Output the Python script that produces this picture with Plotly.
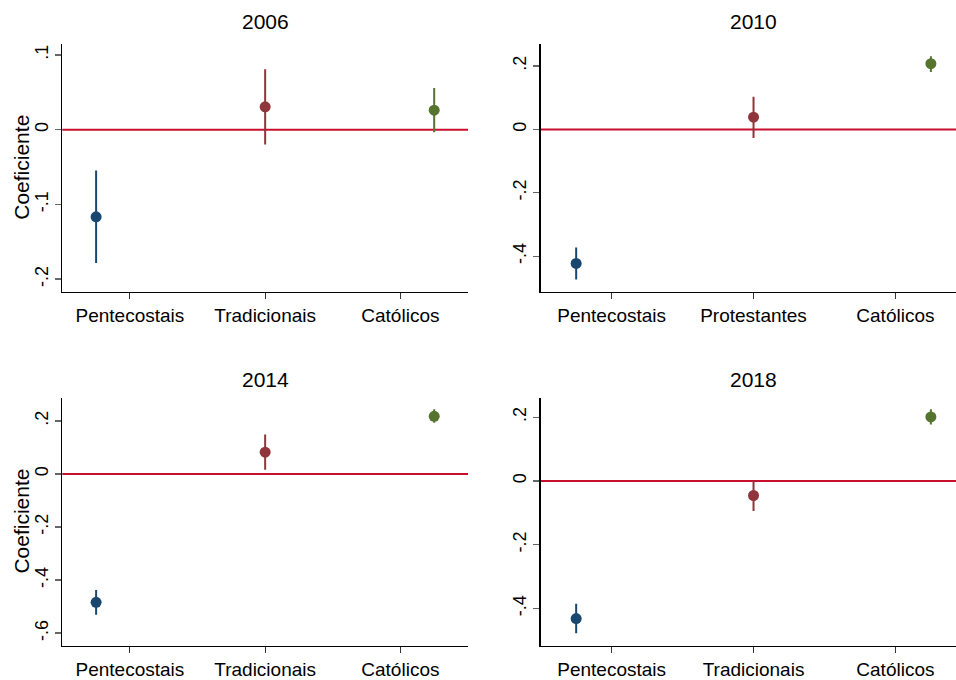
import plotly.graph_objects as go

# ---- data ----
years = ["2006", "2010", "2014", "2018"]
labels_2006 = ["Pentecostais", "Tradicionais", "Católicos"]
labels_2010 = ["Pentecostais", "Protestantes", "Católicos"]
labels_2014 = ["Pentecostais", "Tradicionais", "Católicos"]
labels_2018 = ["Pentecostais", "Tradicionais", "Católicos"]

coef_2006 = [-0.1166, 0.0305, 0.0261]
lo_2006 = [-0.1784, -0.0199, -0.0036]
hi_2006 = [-0.0547, 0.0808, 0.0556]

coef_2010 = [-0.423, 0.0387, 0.2075]
lo_2010 = [-0.474, -0.027, 0.181]
hi_2010 = [-0.373, 0.103, 0.231]

coef_2014 = [-0.484, 0.082, 0.2175]
lo_2014 = [-0.531, 0.016, 0.193]
hi_2014 = [-0.437, 0.149, 0.2437]

coef_2018 = [-0.432, -0.0456, 0.201]
lo_2018 = [-0.478, -0.094, 0.177]
hi_2018 = [-0.3855, 0.001, 0.225]

yticks_2006 = [-0.2, -0.1, 0, 0.1]
yticklabels_2006 = ["-.2", "-.1", "0", ".1"]
yticks_2010 = [-0.4, -0.2, 0, 0.2]
yticklabels_2010 = ["-.4", "-.2", "0", ".2"]
yticks_2014 = [-0.6, -0.4, -0.2, 0, 0.2]
yticklabels_2014 = ["-.6", "-.4", "-.2", "0", ".2"]
yticks_2018 = [-0.4, -0.2, 0, 0.2]
yticklabels_2018 = ["-.4", "-.2", "0", ".2"]

colors = ["#1a476f", "#90353b", "#55752f"]
zero_color = "#c8102e"
FONT = "Liberation Sans, Arial, sans-serif"

panels = [
    dict(year=years[0], labels=labels_2006, coef=coef_2006, lo=lo_2006, hi=hi_2006,
         yt=yticks_2006, ytl=yticklabels_2006, yr=[-0.2172, 0.1152],
         xd=[62.3 / 956, 468 / 956], xr=[0.8, 3.2], yd=[1 - 295 / 680, 1 - 44 / 680],
         title_x=265 / 956, title_y=1 - 22 / 680, ytitle=True),
    dict(year=years[1], labels=labels_2010, coef=coef_2010, lo=lo_2010, hi=hi_2010,
         yt=yticks_2010, ytl=yticklabels_2010, yr=[-0.513, 0.271],
         xd=[540.7 / 956, 1.0], xr=[0.8, 3.1416], yd=[1 - 295 / 680, 1 - 44 / 680],
         title_x=753 / 956, title_y=1 - 22 / 680, ytitle=False),
    dict(year=years[2], labels=labels_2014, coef=coef_2014, lo=lo_2014, hi=hi_2014,
         yt=yticks_2014, ytl=yticklabels_2014, yr=[-0.647, 0.288],
         xd=[62.3 / 956, 468 / 956], xr=[0.8, 3.2], yd=[1 - 652.3 / 680, 1 - 401.7 / 680],
         title_x=265 / 956, title_y=1 - 383 / 680, ytitle=True),
    dict(year=years[3], labels=labels_2018, coef=coef_2018, lo=lo_2018, hi=hi_2018,
         yt=yticks_2018, ytl=yticklabels_2018, yr=[-0.517, 0.262],
         xd=[540.7 / 956, 1.0], xr=[0.8, 3.1416], yd=[1 - 652.3 / 680, 1 - 401.7 / 680],
         title_x=753 / 956, title_y=1 - 383 / 680, ytitle=False),
]

fig = go.Figure()
layout = dict(
    width=956, height=680,
    margin=dict(l=0, r=0, t=0, b=0),
    paper_bgcolor="white", plot_bgcolor="white",
    showlegend=False,
    font=dict(family=FONT, color="black"),
)
annotations = []
shapes = []

for i, p in enumerate(panels):
    k = "" if i == 0 else str(i + 1)
    xa, ya = "x" + k, "y" + k
    positions = list(range(1, len(p["labels"]) + 1))
    for j in range(len(p["labels"])):
        c = p["coef"][j]
        fig.add_trace(go.Scatter(
            x=[positions[j]], y=[c], xaxis=xa, yaxis=ya, mode="markers",
            marker=dict(color=colors[j], size=11, line=dict(width=0)),
            error_y=dict(type="data", symmetric=False,
                         array=[p["hi"][j] - c], arrayminus=[c - p["lo"][j]],
                         color=colors[j], thickness=2, width=0),
            cliponaxis=False,
        ))
    layout["xaxis" + k] = dict(
        domain=p["xd"], range=p["xr"], anchor=ya,
        tickvals=[1.2, 2, 2.8], ticktext=p["labels"],
        showgrid=False, zeroline=False, showline=True, linecolor="black", linewidth=1.3,
        ticks="outside", ticklen=6, tickcolor="#333", tickwidth=1,
        tickfont=dict(size=19, family=FONT, color="black"),
    )
    layout["yaxis" + k] = dict(
        domain=p["yd"], range=p["yr"], anchor=xa,
        tickvals=p["yt"], ticktext=p["ytl"], tickangle=-90,
        showgrid=False, zeroline=False, showline=True, linecolor="black", linewidth=1.3,
        ticks="outside", ticklen=6, tickcolor="#666", tickwidth=1.3,
        tickfont=dict(size=18, family=FONT, color="black"),
    )
    shapes.append(dict(type="line", xref=xa + " domain", yref=ya, x0=0, x1=1, y0=0, y1=0,
                       line=dict(color=zero_color, width=2), layer="below"))
    annotations.append(dict(text=p["year"], x=p["title_x"], y=p["title_y"], xref="paper", yref="paper",
                            showarrow=False, xanchor="center", yanchor="middle",
                            font=dict(size=21, family=FONT, color="black")))
    if p["ytitle"]:
        annotations.append(dict(text="Coeficiente", x=22 / 956, y=(p["yd"][0] + p["yd"][1]) / 2,
                                xref="paper", yref="paper", showarrow=False, textangle=-90,
                                xanchor="center", yanchor="middle",
                                font=dict(size=21, family=FONT, color="black")))

layout["annotations"] = annotations
layout["shapes"] = shapes
fig.update_layout(**layout)
fig.write_html(
    "out.html",
    config={"displayModeBar": False, "staticPlot": True},
    post_script="document.body.style.margin='0';document.body.style.padding='0';"
                "document.body.style.overflow='hidden';",
)
